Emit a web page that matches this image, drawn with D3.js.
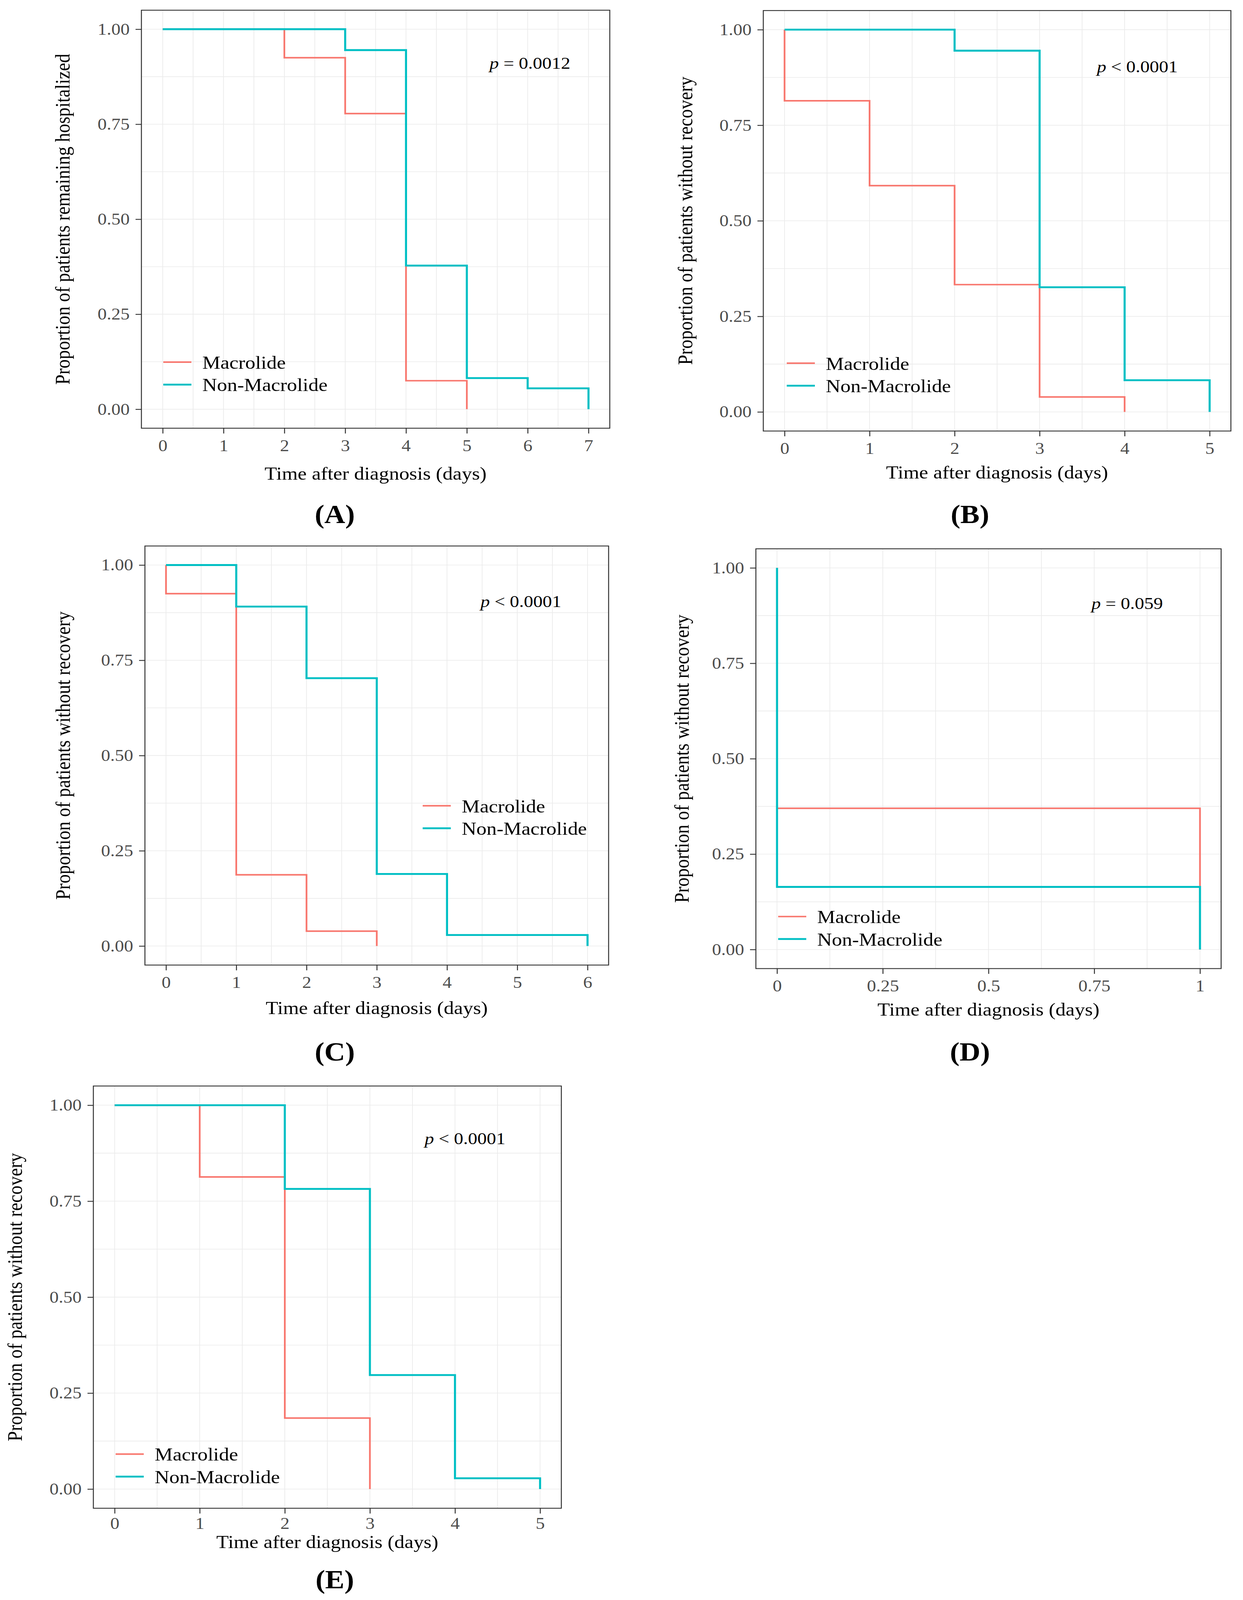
<!DOCTYPE html>
<html>
<head>
<meta charset="utf-8">
<script src="https://cdn.jsdelivr.net/npm/d3@7"></script>
<style>
  html, body { margin: 0; padding: 0; background: #fff; overflow: hidden; }
  text { font-family: "Liberation Serif", "DejaVu Serif", serif; }
</style>
</head>
<body>
<script>
// Kaplan-Meier style step curves
const macA_time = [0, 2, 3, 4, 5];
const macA_surv = [1, 0.925, 0.778, 0.075, 0];
const nonA_time = [0, 3, 4, 5, 6, 7];
const nonA_surv = [1, 0.945, 0.378, 0.082, 0.055, 0];

const macB_time = [0, 0, 1, 2, 3, 4];
const macB_surv = [1, 0.814, 0.592, 0.333, 0.039, 0];
const nonB_time = [0, 2, 3, 4, 5];
const nonB_surv = [1, 0.945, 0.326, 0.083, 0];

const macC_time = [0, 0, 1, 2, 3];
const macC_surv = [1, 0.925, 0.187, 0.039, 0];
const nonC_time = [0, 1, 2, 3, 4, 6];
const nonC_surv = [1, 0.891, 0.703, 0.189, 0.029, 0];

const macD_time = [0, 0, 1];
const macD_surv = [1, 0.370, 0];
const nonD_time = [0, 0, 1];
const nonD_surv = [1, 0.164, 0];

const macE_time = [0, 1, 2, 3];
const macE_surv = [1, 0.813, 0.185, 0];
const nonE_time = [0, 2, 3, 4, 5];
const nonE_surv = [1, 0.782, 0.297, 0.028, 0];

const xTicksA = [0, 1, 2, 3, 4, 5, 6, 7];
const xTicksB = [0, 1, 2, 3, 4, 5];
const xTicksC = [0, 1, 2, 3, 4, 5, 6];
const xTicksD = [0, 0.25, 0.5, 0.75, 1];
const xTickLabelsD = ["0", "0.25", "0.5", "0.75", "1"];
const xTicksE = [0, 1, 2, 3, 4, 5];
const yTicks = [0, 0.25, 0.5, 0.75, 1];
const yTickLabels = ["0.00", "0.25", "0.50", "0.75", "1.00"];

const seriesNames = ["Macrolide", "Non-Macrolide"];
const pValues = ["= 0.0012", "< 0.0001", "< 0.0001", "= 0.059", "< 0.0001"];
const panelTags = ["(A)", "(B)", "(C)", "(D)", "(E)"];
const yTitles = ["Proportion of patients remaining hospitalized",
  "Proportion of patients without recovery", "Proportion of patients without recovery",
  "Proportion of patients without recovery", "Proportion of patients without recovery"];
const xTitle = "Time after diagnosis (days)";

const colors = ["#F8766D", "#00BFC4"];
const widths = [4.4, 5.3];

// layout of each panel on the page (pixels of the 3182x4551 figure)
const panels = [
  { box: [362, 1561, 29, 1218], xMax: 7, ticks: xTicksA, mac: [macA_time, macA_surv], non: [nonA_time, nonA_surv],
    yTitleX: 178, xTitleY: 1364, tickPad: 17, leg: [418, 1030], pv: [1253, 196], tag: [857, 1488] },
  { box: [1954, 3151, 30, 1226], xMax: 5, ticks: xTicksB, mac: [macB_time, macB_surv], non: [nonB_time, nonB_surv],
    yTitleX: 1772, xTitleY: 1361, tickPad: 17, leg: [2014, 1033], pv: [2808, 206], tag: [2483, 1488] },
  { box: [371, 1558, 1553, 2745], xMax: 6, ticks: xTicksC, mac: [macC_time, macC_surv], non: [nonC_time, nonC_surv],
    yTitleX: 179, xTitleY: 2884, tickPad: 17, leg: [1082, 2292], pv: [1230, 1727], tag: [857, 3017] },
  { box: [1935, 3126, 1561, 2755], xMax: 1, ticks: xTicksD, labels: xTickLabelsD, mac: [macD_time, macD_surv], non: [nonD_time, nonD_surv],
    yTitleX: 1763, xTitleY: 2889, tickPad: 17, leg: [1992, 2607], pv: [2794, 1732], tag: [2483, 3017] },
  { box: [239, 1437, 3089, 4290], xMax: 5, ticks: xTicksE, mac: [macE_time, macE_surv], non: [nonE_time, nonE_surv],
    yTitleX: 56, xTitleY: 4403, tickPad: 10, leg: [296, 4136], pv: [1087, 3254], tag: [857, 4518] }
];

const W = 3182, H = 4551;
// the figure is drawn in its own pixel space and fitted to the window
const svg = d3.select("body").append("svg")
  .attr("viewBox", `0 0 ${W} ${H}`)
  .attr("preserveAspectRatio", "none")
  .style("width", "100vw").style("height", "100vh")
  .style("display", "block");
svg.append("rect").attr("width", W).attr("height", H).attr("fill", "#fff");

panels.forEach((p, i) => {
  const [x0, x1, y0, y1] = p.box;
  const pad = p.xMax * 0.05;
  const x = d3.scaleLinear().domain([-pad, p.xMax + pad]).range([x0, x1]);
  const y = d3.scaleLinear().domain([-0.05, 1.05]).range([y1, y0]);
  const g = svg.append("g");

  // minor + major grid (theme_bw style)
  const xGrid = p.ticks.concat(d3.pairs(p.ticks).map(([a, b]) => (a + b) / 2));
  const yGrid = yTicks.concat(d3.pairs(yTicks).map(([a, b]) => (a + b) / 2));
  g.selectAll(".vgrid").data(xGrid).join("line")
    .attr("x1", d => x(d)).attr("x2", d => x(d)).attr("y1", y0).attr("y2", y1)
    .attr("stroke", "#ebebeb").attr("stroke-width", 1.8);
  g.selectAll(".hgrid").data(yGrid).join("line")
    .attr("y1", d => y(d)).attr("y2", d => y(d)).attr("x1", x0).attr("x2", x1)
    .attr("stroke", "#ebebeb").attr("stroke-width", 1.8);

  // curves, macrolide first so the cyan one sits on top
  const line = d3.line().curve(d3.curveStepAfter).x(d => x(d[0])).y(d => y(d[1]));
  [p.mac, p.non].forEach((s, k) => {
    const pts = s[0].map((t, j) => [t, s[1][j]]);
    g.append("path").datum(pts).attr("d", line)
      .attr("fill", "none").attr("stroke", colors[k])
      .attr("stroke-width", widths[k]);
  });

  // panel border
  g.append("rect").attr("x", x0).attr("y", y0)
    .attr("width", x1 - x0).attr("height", y1 - y0)
    .attr("fill", "none").attr("stroke", "#333").attr("stroke-width", 2.5);

  // axes
  const xAxis = g.append("g").attr("transform", `translate(0,${y1})`)
    .call(d3.axisBottom(x).tickValues(p.ticks)
      .tickFormat((d, j) => p.labels ? p.labels[j] : d3.format("d")(d))
      .tickSize(15).tickPadding(p.tickPad));
  const yAxis = g.append("g").attr("transform", `translate(${x0},0)`)
    .call(d3.axisLeft(y).tickValues(yTicks)
      .tickFormat((d, j) => yTickLabels[j]).tickSize(15).tickPadding(15));
  [xAxis, yAxis].forEach(a => {
    a.select(".domain").remove();
    a.selectAll(".tick line").attr("stroke", "#333").attr("stroke-width", 2.5);
    a.selectAll(".tick text").attr("fill", "#4d4d4d")
      .style("font-family", '"Liberation Serif", serif').style("font-size", "47px");
  });

  // titles
  g.append("text").attr("x", (x0 + x1) / 2).attr("y", p.xTitleY)
    .attr("text-anchor", "middle").style("font-size", "52px").text(xTitle);
  g.append("text")
    .attr("transform", `translate(${p.yTitleX},${(y0 + y1) / 2}) rotate(-90)`)
    .attr("text-anchor", "middle").style("font-size", "52px").text(yTitles[i]);

  // legend
  seriesNames.forEach((name, k) => {
    const ly = p.leg[1] + k * 64;
    g.append("line").attr("x1", p.leg[0]).attr("x2", p.leg[0] + 72)
      .attr("y1", ly).attr("y2", ly)
      .attr("stroke", colors[k]).attr("stroke-width", widths[k]);
    g.append("text").attr("x", p.leg[0] + 100).attr("y", ly).attr("dy", "0.36em")
      .style("font-size", "52px").text(name);
  });

  // p value
  const pt = g.append("text").attr("x", p.pv[0]).attr("y", p.pv[1]).style("font-size", "48px");
  pt.append("tspan").style("font-style", "italic").text("p");
  pt.append("tspan").text(" " + pValues[i]);

  // panel tag
  g.append("text").attr("x", p.tag[0]).attr("y", p.tag[1])
    .attr("text-anchor", "middle").style("font-size", "74px").style("font-weight", "bold")
    .text(panelTags[i]);
});
</script>
</body>
</html>
